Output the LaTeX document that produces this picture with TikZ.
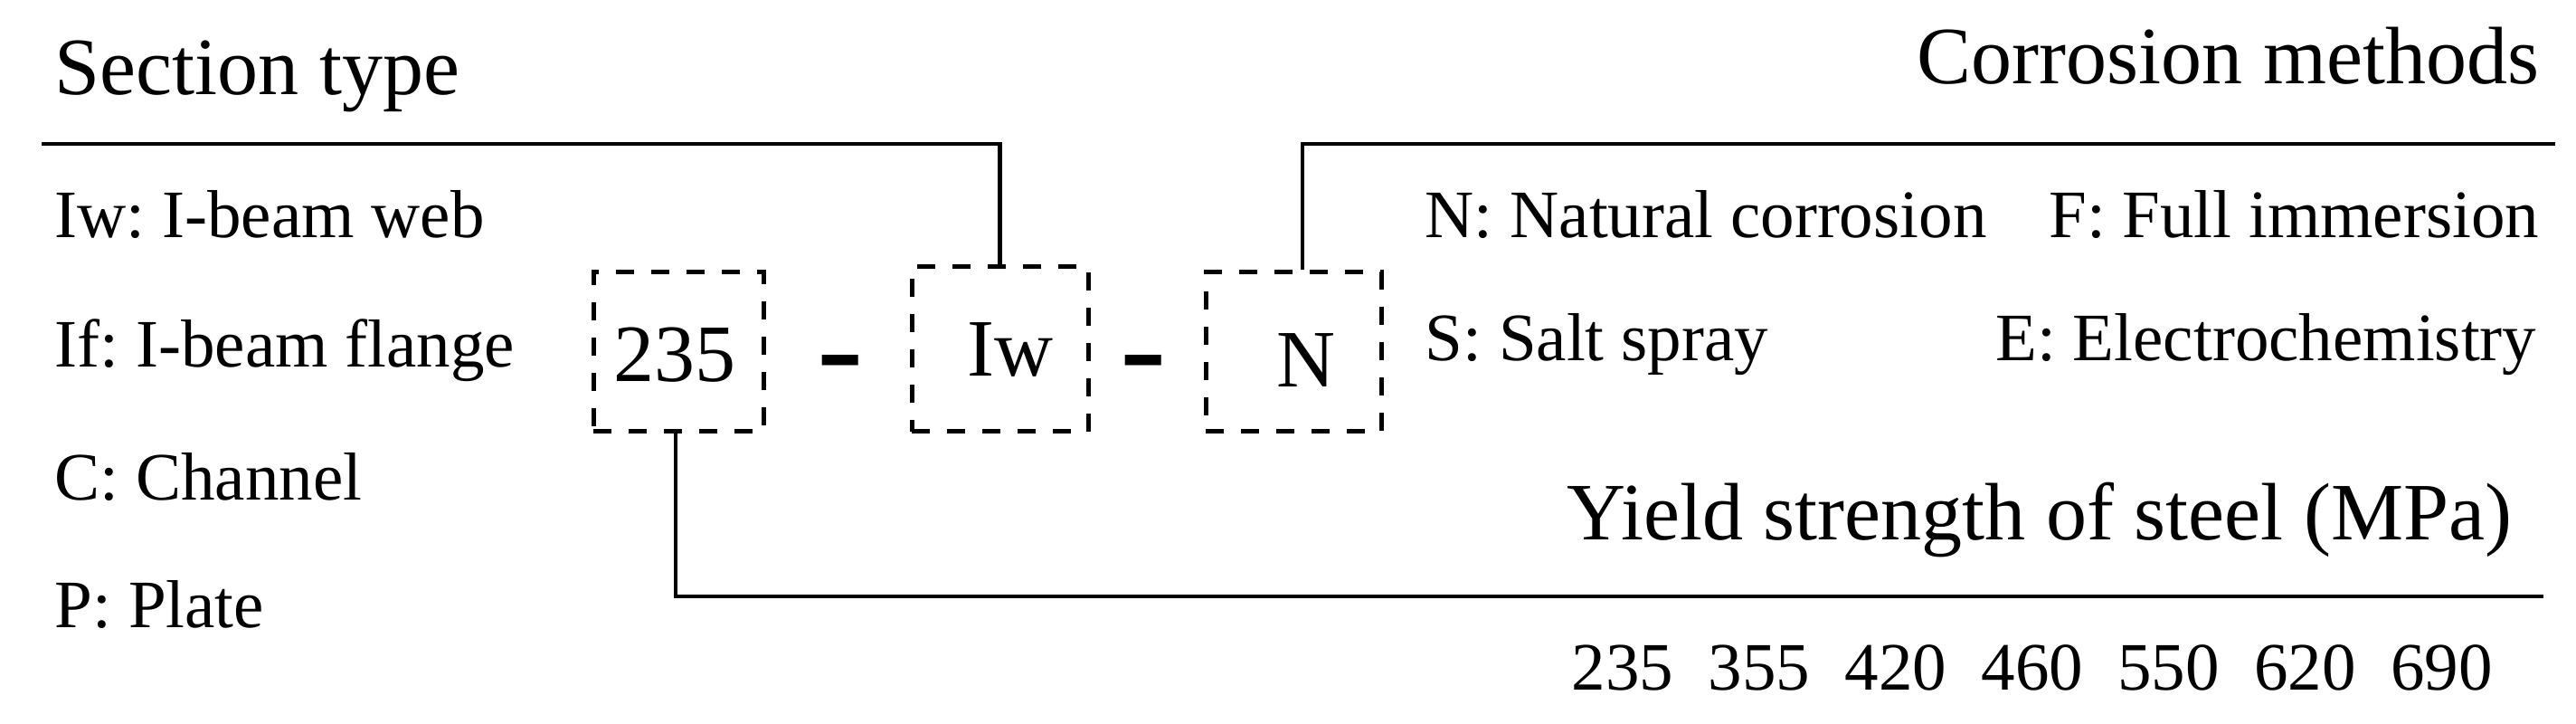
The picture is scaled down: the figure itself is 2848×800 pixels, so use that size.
\documentclass[tikz,border=0pt]{standalone}
\usepackage{fontspec}
\setmainfont{Liberation Serif}
\frenchspacing
\begin{document}
\begin{tikzpicture}[x=0.25pt,y=-0.25pt,
  big/.style={inner sep=0pt,font=\fontsize{22.5}{27}\selectfont},
  small/.style={inner sep=0pt,font=\fontsize{18.75}{22}\selectfont},
  dashbox/.style={draw,line width=1.25pt,dash pattern=on 5pt off 4.75pt,inner sep=0pt},
  conn/.style={line width=1.1pt},
  sep/.style={inner sep=0pt,anchor=base,font=\fontsize{38.5}{40}\selectfont}]
\useasboundingbox (0,0) rectangle (2848,800);
% headings
\node[big,anchor=base west] (sect) at (60,105) {Section type};
\node[big,anchor=base east] (corr) at (2808,93) {Corrosion methods};
\node[big,anchor=base east] (yield) at (2778,597) {Yield strength of steel (MPa)};
% section types
\node[small,anchor=base west] (iw) at (60,263) {Iw: I-beam web};
\node[small,anchor=base west] (if) at (60,406) {If: I-beam flange};
\node[small,anchor=base west] (ch) at (60,553) {C: Channel};
\node[small,anchor=base west] (pl) at (60,694) {P: Plate};
% corrosion methods
\node[small,anchor=base west] (nat) at (1575,263) {N: Natural corrosion};
\node[small,anchor=base east] (full) at (2808,263) {F: Full immersion};
\node[small,anchor=base west] (salt) at (1575,399) {S: Salt spray};
\node[small,anchor=base east] (elec) at (2805,399) {E: Electrochemistry};
% yield strengths
\node[small,anchor=base west] (nums) at (1737,763) {235\hspace{9.6pt}355\hspace{9.6pt}420\hspace{9.6pt}460\hspace{9.6pt}550\hspace{9.6pt}620\hspace{9.6pt}690};
% code boxes
\node[dashbox,minimum width=47pt,minimum height=44pt] (b1) at (750,389) {};
\node[dashbox,minimum width=48.75pt,minimum height=45.5pt] (b2) at (1105.5,386) {};
\node[dashbox,minimum width=48.5pt,minimum height=44pt] (b3) at (1430,389) {};
\node[big,anchor=base] (t1) at (746,422) {235};
\node[big,anchor=base west] (t2) at (1069,416) {Iw};
\node[big,anchor=base] (t3) at (1444,428) {N};
\node[sep] (h1) at (929,435) {-};
\node[sep] (h2) at (1264,435) {-};
% connectors
\coordinate (stl) at (46,159);
\coordinate (ctr) at (2825,159);
\coordinate (cbr) at (2812,659);
\draw[conn] (stl) -| (b2.north);
\draw[conn] ([xshift=2.5pt]b3.north) |- (ctr);
\draw[conn] ([xshift=-0.75pt]b1.south) |- (cbr);
\end{tikzpicture}
\end{document}
